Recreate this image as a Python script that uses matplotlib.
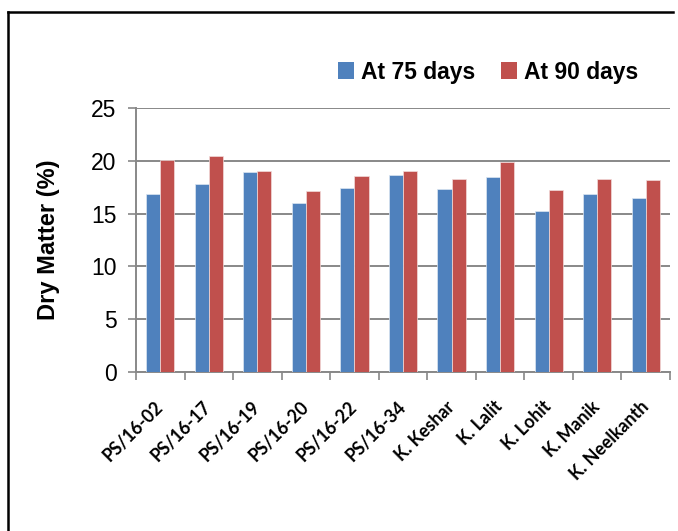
import matplotlib
matplotlib.use("Agg")
import matplotlib.pyplot as plt
from matplotlib.lines import Line2D
from matplotlib.patches import Patch
import numpy as np

varieties = ["PS/16-02", "PS/16-17", "PS/16-19", "PS/16-20", "PS/16-22", "PS/16-34",
             "K. Keshar", "K. Lalit", "K. Lohit", "K. Manik", "K. Neelkanth"]
dm_75 = [16.85, 17.8, 18.9, 16.0, 17.45, 18.65, 17.35, 18.45, 15.2, 16.9, 16.45]
dm_90 = [20.1, 20.45, 19.0, 17.15, 18.55, 19.05, 18.3, 19.9, 17.25, 18.3, 18.15]
series_names = ["At 75 days", "At 90 days"]
y_ticks = [0, 5, 10, 15, 20, 25]

BLUE = "#4F81BD"
RED = "#C0504D"
GRID = "#888888"

W, H = 678, 531
fig = plt.figure(figsize=(W / 100, H / 100), dpi=100)
fig.patch.set_facecolor("white")

ax = fig.add_axes([136 / W, 1 - 372 / H, (670 - 136) / W, (372 - 108) / H])

x = np.arange(len(varieties))
bw = 0.29
ax.bar(x - bw / 2, dm_75, width=bw, color=BLUE, edgecolor="#DCE6F2", linewidth=0.5, zorder=3)
ax.bar(x + bw / 2, dm_90, width=bw, color=RED, edgecolor="#F2DCDB", linewidth=0.5, zorder=3)

ax.set_xlim(-0.5, len(varieties) - 0.5)
ax.set_ylim(0, 25)
ax.set_yticks(y_ticks)
ax.yaxis.grid(True, color=GRID, linewidth=1.4, zorder=0)
ax.set_axisbelow(True)

for side in ("top", "right"):
    ax.spines[side].set_visible(False)
for side in ("left", "bottom"):
    ax.spines[side].set_color(GRID)
    ax.spines[side].set_linewidth(1.4)

ax.tick_params(axis="y", length=6, width=1.2, color=GRID, pad=8,
               labelsize=16.5, labelcolor="black")
for lab in ax.get_yticklabels():
    lab.set_family("Liberation Sans")

# category separators as minor ticks on the x axis
ax.set_xticks(np.arange(-0.5, len(varieties), 1.0), minor=True)
ax.set_xticks(x)
ax.tick_params(axis="x", which="minor", length=6, width=1.2, color=GRID, direction="out")
ax.tick_params(axis="x", which="major", length=0, pad=23)
ax.set_xticklabels(varieties, rotation=45, ha="right", va="center",
                   rotation_mode="anchor", fontsize=12.8, fontweight="bold",
                   family=["Lato", "DejaVu Sans"])

ax.set_ylabel("Dry Matter (%)", fontsize=17, fontweight="bold",
              family=["Liberation Sans", "DejaVu Sans"], labelpad=22)

handles = [Patch(facecolor=BLUE, edgecolor="none"), Patch(facecolor=RED, edgecolor="none")]
fig.legend(handles, series_names, loc="center", bbox_to_anchor=(488 / W, 1 - 72 / H),
           ncol=2, frameon=False, handlelength=0.7, handleheight=0.7,
           handletextpad=0.3, columnspacing=1.1,
           prop={"family": ["Liberation Sans", "DejaVu Sans"],
                 "weight": "bold", "size": 16.5})

# outer frame
fig.add_artist(Line2D([8 / W, 8 / W], [0, 1 - 12 / H], color="black", linewidth=1.8))
fig.add_artist(Line2D([8 / W, 673 / W], [1 - 12 / H, 1 - 12 / H], color="black", linewidth=1.8))

fig.savefig("out.png", dpi=100)
